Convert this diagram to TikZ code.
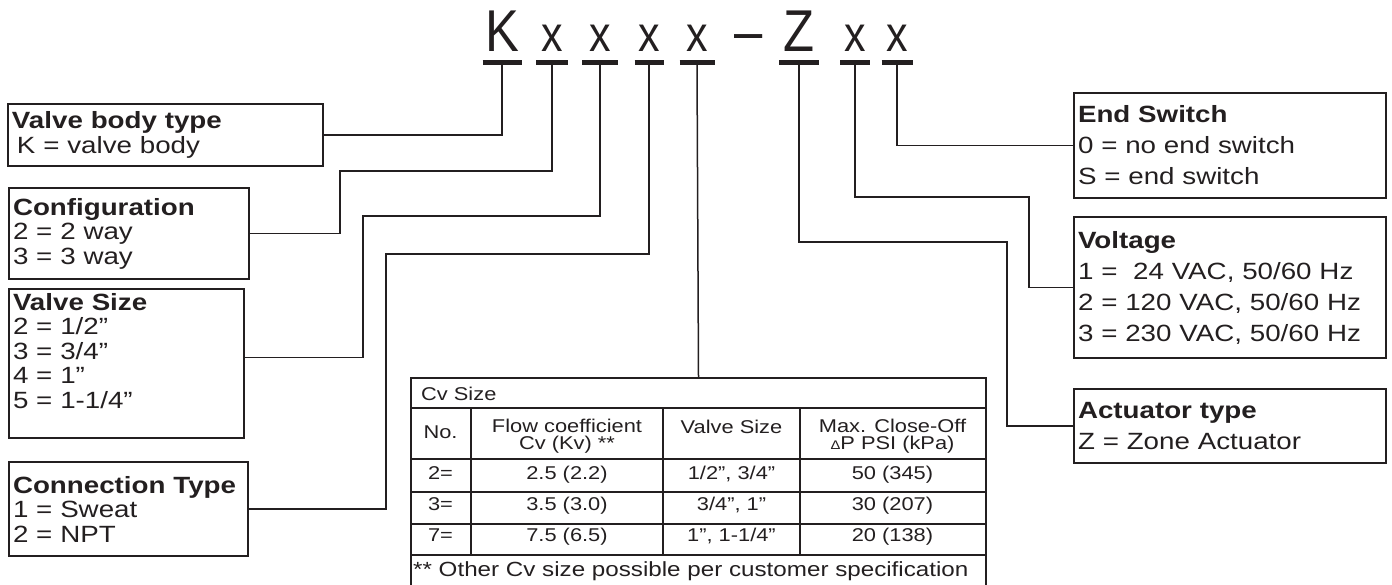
\documentclass[tikz,border=0pt]{standalone}
\usepackage{fontspec}
\setmainfont{Liberation Sans}[FakeStretch=1.18]
\newfontfamily\codefont{Liberation Sans}[FakeStretch=0.86]
\usetikzlibrary{positioning}
\definecolor{ink}{RGB}{35,31,32}

\tikzset{
  code/.style={font=\codefont\fontsize{59}{60}\selectfont, anchor=base, inner sep=0pt, text=ink},
  codex/.style={code, font=\codefont\fontsize{50}{52}\selectfont},
  bar/.style={line width=5pt, ink},
  lead/.style={line width=1.5pt, ink},
  keybox/.style={draw=ink, line width=2pt, anchor=north west, align=left, inner xsep=4pt, inner ysep=0pt,
    text=ink, font=\fontsize{23.5}{24.5}\selectfont},
  rkeybox/.style={keybox, text width=304pt, font=\fontsize{23.5}{31}\selectfont},
  cell/.style={font=\fontsize{18.5}{17.5}\selectfont, anchor=base, inner sep=0pt, text=ink},
  grid/.style={line width=1.6pt, ink}
}

\begin{document}
\begin{tikzpicture}[x=1pt, y=-1pt]
  \useasboundingbox (0,0) rectangle (1392,585);

  % part number letters with their bars
  \foreach \ch/\x/\w/\st/\nm in {K/502/19.5/code/pk, x/552/16/codex/pa, x/600/18/codex/pb, x/649/14.5/codex/pc,
      x/697/17.5/codex/pd, Z/799/20/code/pz, x/855/15/codex/pv, x/897/15.5/codex/pe}{
    \node[\st] (l\nm) at (\x,52) {\ch};
    \draw[bar] (\x-\w,62.5) -- (\x+\w,62.5);
    \coordinate (\nm) at (\x,65);
  }
  \node[code] (dash) at (749,52) {–};

  % left boxes
  \node[keybox, text width=307pt, minimum height=62pt] (vbody) at (7,103)
    {\textbf{Valve body type}\\\hspace*{5pt}K = valve body};
  \node[keybox, text width=232pt, minimum height=91pt] (config) at (8,187)
    {\textbf{Configuration}\\2 = 2 way\\3 = 3 way};
  \node[keybox, text width=227pt, minimum height=149pt] (vsize) at (8,288)
    {\textbf{Valve Size}\\2 = 1/2”\\3 = 3/4”\\4 = 1”\\5 = 1-1/4”\rule[-26pt]{0pt}{26pt}};
  \node[keybox, text width=231pt, minimum height=94pt] (conn) at (8,461)
    {\textbf{Connection Type}\\1 = Sweat\\2 = NPT};

  % right boxes
  \node[rkeybox, minimum height=105pt] (endsw) at (1073,92)
    {\textbf{End Switch}\\0 = no end switch\\S = end switch};
  \node[rkeybox, minimum height=141pt] (volt) at (1073,216)
    {\textbf{Voltage}\\1 =\ \ 24 VAC, 50/60 Hz\\2 = 120 VAC, 50/60 Hz\\3 = 230 VAC, 50/60 Hz};
  \node[rkeybox, minimum height=74pt] (act) at (1073,388)
    {\textbf{Actuator type}\\Z = Zone Actuator};

  % Cv table
  \node[draw=ink, line width=2pt, anchor=north west, inner sep=0pt, minimum width=575pt,
    minimum height=215pt] (cvtab) at (410,377) {};
  \foreach \y in {408,459,492,524,555}
    \draw[grid] (410,\y) -- (985,\y);
  \foreach \x in {471,663,800}
    \draw[grid] (\x,408) -- (\x,555);

  \node[cell, anchor=base west] (cvhead) at (421,400) {Cv Size};
  \node[cell] (hno) at (440.5,438) {No.};
  \node[cell, anchor=center, align=center] (hflow) at (567,436) {Flow coefficient\\Cv (Kv) **};
  \node[cell] (hsize) at (731.5,433) {Valve Size};
  \node[cell, anchor=center, align=center] (hdp) at (892.5,436)
    {Max. Close-Off\\{\fontsize{12.5}{12}\selectfont Δ}P PSI (kPa)};
  \foreach \ypos/\cno/\cvv/\csz/\cdp [count=\rw] in {479/2=/2.5 (2.2)/{1/2”, 3/4”}/50 (345),
      510/3=/3.5 (3.0)/{3/4”, 1”}/30 (207), 541/7=/7.5 (6.5)/{1”, 1-1/4”}/20 (138)}{
    \node[cell] (no\rw) at (440.5,\ypos) {\cno};
    \node[cell] (cv\rw) at (567,\ypos) {\cvv};
    \node[cell] (sz\rw) at (731.5,\ypos) {\csz};
    \node[cell] (dp\rw) at (892.5,\ypos) {\cdp};
  }
  \node[cell, anchor=base west, font=\fontsize{20.5}{20}\selectfont] (note) at (413,576)
    {** Other Cv size possible per customer specification};

  % leaders
  \coordinate (ja) at (340,171);
  \coordinate (jb) at (363,216);
  \coordinate (jc) at (386,254);
  \coordinate (jz) at (1007,242);
  \coordinate (jv) at (1029,197);
  \draw[lead] (pk) |- (vbody.east);
  \draw[lead] (pa) |- (ja) |- (config.east);
  \draw[lead] (pb) |- (jb) |- ([yshift=6pt]vsize.east);
  \draw[lead] (pc) |- (jc) |- (conn.east);
  \draw[lead] (pd) -- (cvtab.north);
  \draw[lead] (pz) |- (jz) |- (act.west);
  \draw[lead] (pv) |- (jv) |- (volt.west);
  \draw[lead] (pe) |- (endsw.west);
\end{tikzpicture}
\end{document}
